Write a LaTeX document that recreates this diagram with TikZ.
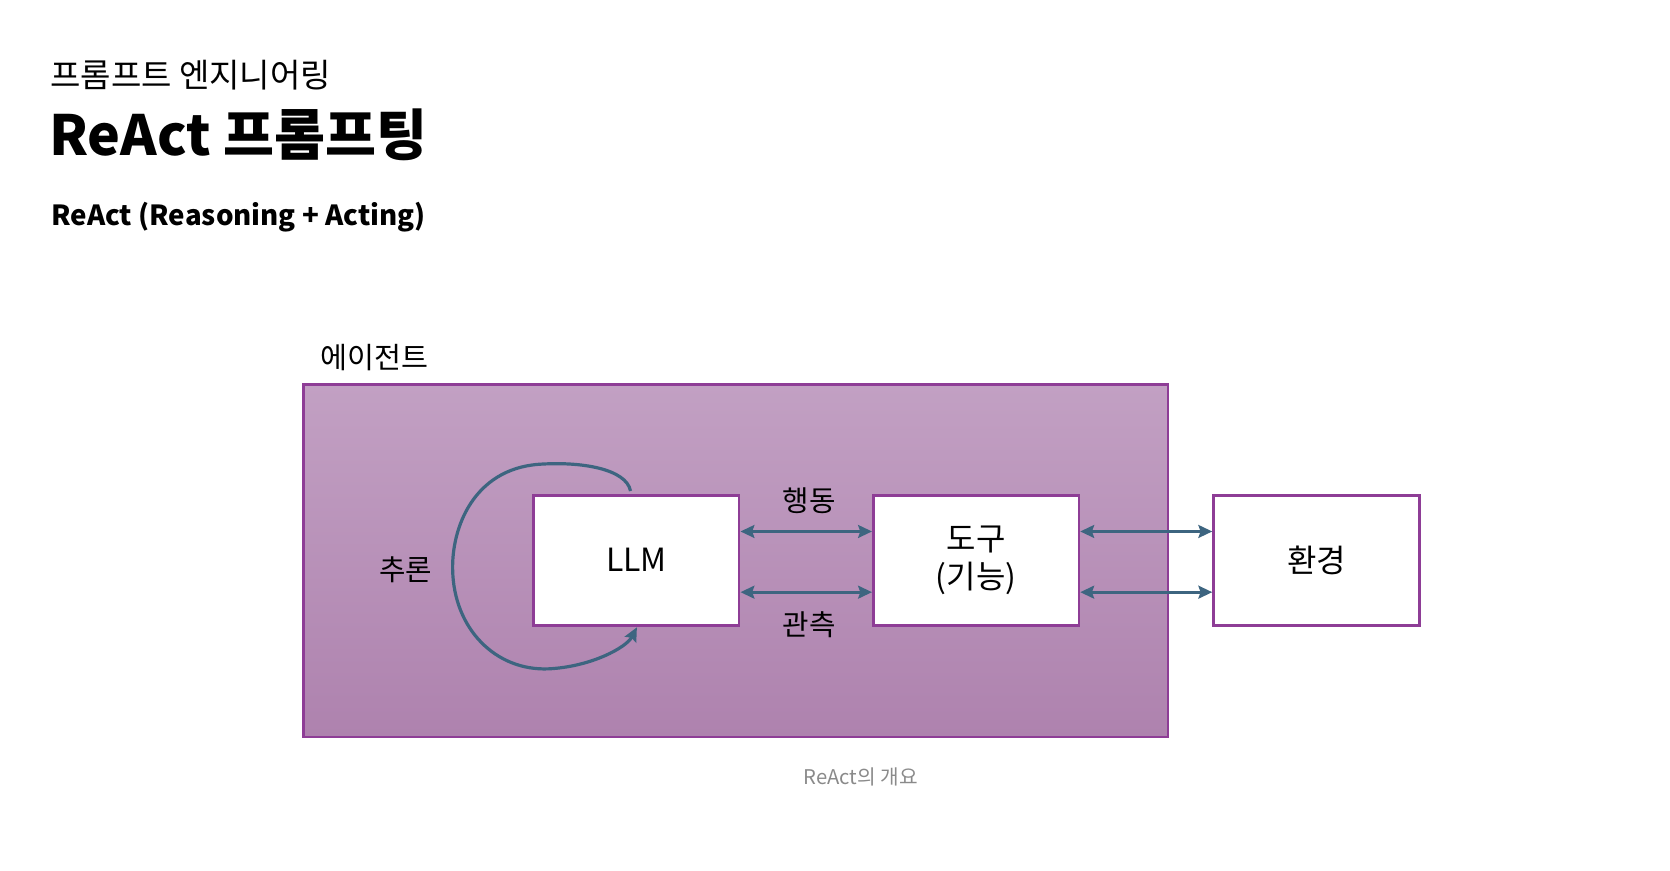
\documentclass[tikz,border=0pt]{standalone}
\usepackage{fontspec}
\setmainfont{Noto Sans CJK KR}
\usetikzlibrary{arrows.meta,calc}
\definecolor{boxpurple}{HTML}{8E3D96}
\definecolor{agtop}{HTML}{C2A0C3}
\definecolor{agbot}{HTML}{AE82AE}
\definecolor{arrblue}{HTML}{3D6580}
\definecolor{capgray}{HTML}{8A8A8A}
\begin{document}
\begin{tikzpicture}[x=1pt,y=-1pt,
  wbox/.style={draw=boxpurple,line width=2.5pt,fill=white,minimum width=193pt,minimum height=122pt,inner sep=0pt,align=center,font=\fontsize{30}{36}\selectfont},
  agentbox/.style={draw=boxpurple,line width=2pt,top color=agtop,bottom color=agbot,minimum width=812pt,minimum height=331pt,inner sep=0pt},
  arr/.style={draw=arrblue,line width=3pt,{Stealth[length=13pt,width=12pt,inset=2pt]}-{Stealth[length=13pt,width=12pt,inset=2pt]}},
  curvearr/.style={draw=arrblue,line width=3pt,-{Stealth[length=13pt,width=12pt,inset=2pt]}},
  lbl/.style={inner sep=0pt,font=\fontsize{27}{30}\selectfont}
]
\useasboundingbox (0,0) rectangle (1568,817);
\node[anchor=west,inner sep=0pt,font=\fontsize{31}{34}\selectfont] (sub) at (47,71) {프롬프트 엔지니어링};
\node[anchor=west,inner sep=0pt,font=\fontsize{52}{60}\bfseries\selectfont] (title) at (46,127) {ReAct 프롬프팅};
\node[anchor=west,inner sep=0pt,font=\fontsize{26}{30}\bfseries\selectfont] (sec) at (48,204) {ReAct (Reasoning + Acting)};

\node[agentbox] (agent) at (691,526.5) {};
\node[anchor=west,lbl,font=\fontsize{27.5}{30}\selectfont] (agentlbl) at (301,336) {에이전트};

\node[wbox] (llm) at (597.5,526) {LLM};
\node[wbox] (tool) at (916.5,526) {도구\\[-1pt](기능)};
\node[wbox] (env) at (1236,526) {환경};

\draw[arr] ([yshift=27pt]llm.east) -- ([yshift=27pt]tool.west);
\draw[arr] ([yshift=-30pt]llm.east) -- ([yshift=-30pt]tool.west);
\draw[arr] ([yshift=27pt]tool.east) -- ([yshift=27pt]env.west);
\draw[arr] ([yshift=-30pt]tool.east) -- ([yshift=-30pt]env.west);

\node[lbl] (act) at (760,470) {행동};
\node[lbl] (obs) at (760,587) {관측};
\node[lbl] (reason) at (381,535) {추론};

\coordinate (cs) at (592,461);
\coordinate (ce) at (598,589);
\draw[curvearr] (cs) .. controls (588,440) and (545,433) .. (505,436)
  .. controls (445,441) and (424,495) .. (425,535)
  .. controls (426,590) and (465,630) .. (515,628)
  .. controls (555,626) and (588,608) .. (ce);

\node[inner sep=0pt,text=capgray,font=\fontsize{19}{22}\selectfont] (cap) at (808,729) {ReAct의 개요};
\end{tikzpicture}
\end{document}
